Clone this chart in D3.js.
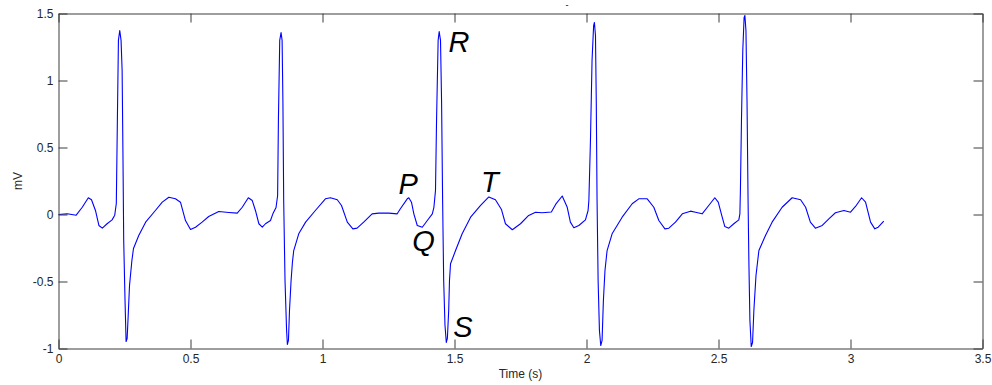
<!DOCTYPE html>
<html>
<head>
<meta charset="utf-8">
<script src="https://cdn.jsdelivr.net/npm/d3@7"></script>
<style>
  body { margin: 0; background: #fff; }
  svg { display: block; font-family: "Liberation Sans", Arial, sans-serif; }
</style>
</head>
<body>
<div id="chart"></div>
<script>
// ECG trace (time in s, voltage in mV)
const timeSec = [
  0, 0.033, 0.067, 0.090, 0.113, 0.125, 0.140, 0.153, 0.166, 0.184, 0.203, 0.213, 0.219,
  0.223, 0.227, 0.232, 0.237, 0.241, 0.244, 0.247, 0.252, 0.256, 0.260, 0.264, 0.269,
  0.278, 0.284, 0.304, 0.330, 0.367, 0.393, 0.418, 0.443, 0.462, 0.481, 0.500, 0.519,
  0.544, 0.569, 0.607, 0.645, 0.677, 0.696, 0.719, 0.734, 0.746, 0.759, 0.772, 0.784,
  0.803, 0.812, 0.824, 0.830, 0.833, 0.838, 0.843, 0.847, 0.850, 0.853, 0.858, 0.864,
  0.867, 0.871, 0.875, 0.881, 0.886, 0.891, 0.910, 0.936, 0.973, 1.011, 1.030, 1.056,
  1.072, 1.094, 1.115, 1.131, 1.156, 1.188, 1.213, 1.251, 1.283, 1.295, 1.321, 1.327,
  1.337, 1.346, 1.359, 1.378, 1.397, 1.416, 1.422, 1.428, 1.432, 1.438, 1.442, 1.447,
  1.451, 1.455, 1.459, 1.464, 1.469, 1.473, 1.478, 1.481, 1.485, 1.504, 1.529, 1.561,
  1.598, 1.630, 1.655, 1.678, 1.693, 1.719, 1.750, 1.781, 1.807, 1.832, 1.867, 1.883,
  1.908, 1.927, 1.939, 1.952, 1.971, 1.996, 2.006, 2.009, 2.015, 2.021, 2.027, 2.030,
  2.034, 2.037, 2.040, 2.044, 2.049, 2.054, 2.059, 2.064, 2.070, 2.078, 2.097, 2.135,
  2.173, 2.198, 2.230, 2.255, 2.274, 2.297, 2.312, 2.337, 2.363, 2.394, 2.413, 2.438,
  2.463, 2.486, 2.499, 2.514, 2.524, 2.539, 2.558, 2.577, 2.581, 2.583, 2.587, 2.592,
  2.597, 2.600, 2.604, 2.608, 2.612, 2.615, 2.619, 2.624, 2.629, 2.634, 2.642, 2.653,
  2.678, 2.703, 2.741, 2.779, 2.811, 2.830, 2.848, 2.867, 2.893, 2.918, 2.943, 2.975,
  3.000, 3.019, 3.042, 3.057, 3.076, 3.092, 3.105, 3.126
];
const ecgMv = [
  0, 0.005, -0.005, 0.054, 0.125, 0.110, 0.030, -0.082, -0.102, -0.069, -0.040, -0.005, 0.082,
  0.701, 1.299, 1.373, 1.299, 1.075, 0.478, -0.194, -0.642, -0.948, -0.925, -0.754, -0.530,
  -0.343, -0.254, -0.157, -0.057, 0.030, 0.092, 0.129, 0.117, 0.092, -0.045, -0.112, -0.095,
  -0.057, -0.015, 0.022, 0.015, 0.010, 0.054, 0.125, 0.104, 0.030, -0.069, -0.095, -0.069,
  -0.045, 0.005, 0.052, 0.142, 0.701, 1.299, 1.358, 1.299, 0.851, 0.104, -0.493, -0.866,
  -0.970, -0.940, -0.716, -0.493, -0.358, -0.269, -0.144, -0.057, 0.030, 0.117, 0.125, 0.110,
  0.067, -0.057, -0.107, -0.102, -0.057, 0.005, 0.010, 0.010, 0.005, 0.043, 0.117, 0.125,
  0.092, 0.005, -0.082, -0.095, -0.045, 0.005, 0.054, 0.179, 0.701, 1.299, 1.366, 1.299,
  0.851, 0.104, -0.493, -0.828, -0.955, -0.925, -0.716, -0.493, -0.368, -0.269, -0.144, -0.020,
  0.067, 0.131, 0.110, 0.037, -0.069, -0.114, -0.069, -0.007, 0.017, 0.013, 0.019, 0.075,
  0.138, 0.054, -0.057, -0.099, -0.082, -0.040, 0.030, 0.104, 0.552, 1.149, 1.410, 1.433,
  1.336, 0.851, 0.104, -0.493, -0.866, -0.978, -0.940, -0.642, -0.418, -0.269, -0.144, -0.020,
  0.080, 0.117, 0.117, 0.054, -0.045, -0.107, -0.102, -0.057, 0.005, 0.025, 0.017, 0.005,
  0.067, 0.125, 0.092, -0.020, -0.090, -0.102, -0.069, -0.040, 0.005, 0.179, 0.701, 1.224,
  1.470, 1.485, 1.373, 0.851, 0.104, -0.343, -0.791, -0.985, -0.955, -0.716, -0.455, -0.269,
  -0.157, -0.057, 0.054, 0.125, 0.110, 0.054, -0.057, -0.102, -0.082, -0.032, 0.013, 0.030,
  0.017, 0.060, 0.125, 0.092, -0.057, -0.107, -0.095, -0.050
];

// Tick marks and labels
const xTicks = [0, 0.5, 1, 1.5, 2, 2.5, 3, 3.5];
const xTickLabels = ["0", "0.5", "1", "1.5", "2", "2.5", "3", "3.5"];
const yTicks = [-1, -0.5, 0, 0.5, 1, 1.5];
const yTickLabels = ["-1", "-0.5", "0", "0.5", "1", "1.5"];

// Wave labels (placed in data units, at the text's left/baseline)
const waveLabels = ["P", "Q", "R", "S", "T"];
const waveLabelT = [1.288, 1.340, 1.477, 1.495, 1.600];
const waveLabelV = [0.154, -0.272, 1.209, -0.916, 0.166];

const width = 992, height = 385;
const plot = { left: 58.5, right: 982.5, top: 13.5, bottom: 348.5 };

const svg = d3.select("#chart").append("svg")
  .attr("width", width)
  .attr("height", height);

const x = d3.scaleLinear().domain([0, 3.5]).range([plot.left, plot.right]);
const y = d3.scaleLinear().domain([-1, 1.5]).range([plot.bottom, plot.top]);

const axisColor = "#3c3c3c";
const labelColor = "#262626";

// signal
const points = timeSec.map((t, i) => [t, ecgMv[i]]);
svg.append("path")
  .datum(points)
  .attr("fill", "none")
  .attr("stroke", "#0000ff")
  .attr("stroke-width", 1.1)
  .attr("stroke-linejoin", "round")
  .attr("d", d3.line().x(d => x(d[0])).y(d => y(d[1])));

// axes (box with inward ticks on all sides)
function styleAxis(g) {
  g.selectAll("path.domain").attr("stroke", axisColor);
  g.selectAll(".tick line").attr("stroke", axisColor);
  g.selectAll(".tick text")
    .attr("fill", labelColor)
    .style("font-size", "12px")
    .style("font-family", '"Liberation Sans", Arial, sans-serif');
}

svg.append("g")
  .attr("transform", `translate(0,${plot.bottom})`)
  .call(d3.axisBottom(x).tickValues(xTicks)
    .tickFormat((d, i) => xTickLabels[i])
    .tickSizeInner(-9).tickSizeOuter(0).tickPadding(6))
  .call(styleAxis);

svg.append("g")
  .attr("transform", `translate(0,${plot.top})`)
  .call(d3.axisTop(x).tickValues(xTicks).tickFormat("")
    .tickSizeInner(-9).tickSizeOuter(0))
  .call(styleAxis);

svg.append("g")
  .attr("transform", `translate(${plot.left},0)`)
  .call(d3.axisLeft(y).tickValues(yTicks)
    .tickFormat((d, i) => yTickLabels[i])
    .tickSizeInner(-9).tickSizeOuter(0).tickPadding(5))
  .call(styleAxis);

svg.append("g")
  .attr("transform", `translate(${plot.right},0)`)
  .call(d3.axisRight(y).tickValues(yTicks).tickFormat("")
    .tickSizeInner(-9).tickSizeOuter(0))
  .call(styleAxis);

// axis titles
svg.append("text")
  .attr("x", (plot.left + plot.right) / 2)
  .attr("y", 378)
  .attr("text-anchor", "middle")
  .attr("fill", labelColor)
  .style("font-size", "12px")
  .text("Time (s)");

svg.append("text")
  .attr("transform", `translate(22,${(plot.top + plot.bottom) / 2}) rotate(-90)`)
  .attr("text-anchor", "middle")
  .attr("fill", labelColor)
  .style("font-size", "12px")
  .text("mV");

// tiny title remnant at the top
svg.append("text")
  .attr("x", 567)
  .attr("y", 8)
  .attr("text-anchor", "middle")
  .attr("fill", "#000")
  .style("font-size", "9px")
  .text("-");

// P Q R S T annotations
svg.selectAll("text.wave")
  .data(waveLabels)
  .enter()
  .append("text")
  .attr("class", "wave")
  .attr("x", (d, i) => x(waveLabelT[i]))
  .attr("y", (d, i) => y(waveLabelV[i]))
  .attr("fill", "#000")
  .style("font-size", "29px")
  .style("font-style", "italic")
  .text(d => d);
</script>
</body>
</html>
